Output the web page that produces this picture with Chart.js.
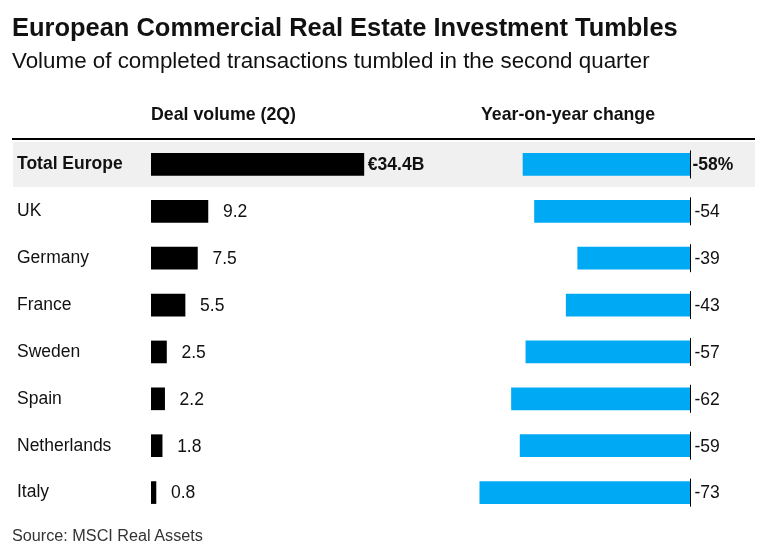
<!DOCTYPE html>
<html>
<head>
<meta charset="utf-8">
<script src="https://cdn.jsdelivr.net/npm/chart.js@4.4.1/dist/chart.umd.min.js"></script>
<style>
  html, body { margin: 0; padding: 0; background: #fff; }
  body { width: 759px; height: 556px; position: relative; overflow: hidden; font-family: "Liberation Sans", Arial, sans-serif; color: #000; }
  .t { position: absolute; white-space: nowrap; line-height: 1; }
  #title { left: 12px; top: 15px; font-weight: bold; font-size: 22px; color: #111; }
  #subtitle { left: 12px; top: 50px; font-size: 19px; color: #111; }
  #h1 { left: 151px; top: 106px; font-weight: bold; font-size: 17px; color: #111; }
  #h2 { left: 481px; top: 106px; font-weight: bold; font-size: 17px; color: #111; }
  #source { left: 12px; top: 527px; font-size: 15.5px; color: #333; }
  #wrap { position: absolute; left: 0; top: 0; width: 759px; height: 556px; }
</style>
</head>
<body>
<div id="wrap"><canvas id="c" width="759" height="556"></canvas></div>
<div class="t" id="title" data-w="666">European Commercial Real Estate Investment Tumbles</div>
<div class="t" id="subtitle" data-w="638">Volume of completed transactions tumbled in the second quarter</div>
<div class="t" id="h1" data-w="145">Deal volume (2Q)</div>
<div class="t" id="h2" data-w="174">Year-on-year change</div>
<div class="t" id="source" data-w="192">Source: MSCI Real Assets</div>
<script>
// ---- data ----
const categories = ["Total Europe", "UK", "Germany", "France", "Sweden", "Spain", "Netherlands", "Italy"];
const dealVolume = [34.4, 9.2, 7.5, 5.5, 2.5, 2.2, 1.8, 0.8];
const yoyChange = [-58, -54, -39, -43, -57, -62, -59, -73];
const volumeLabels = ["€34.4B", "9.2", "7.5", "5.5", "2.5", "2.2", "1.8", "0.8"];
const changeLabels = ["-58%", "-54", "-39", "-43", "-57", "-62", "-59", "-73"];

// ---- fit header texts to reference widths ----
(function fit() {
  const cv = document.createElement('canvas').getContext('2d');
  document.querySelectorAll('[data-w]').forEach(el => {
    const cs = getComputedStyle(el);
    const size = parseFloat(cs.fontSize);
    cv.font = cs.fontWeight + ' ' + size + 'px ' + cs.fontFamily;
    const w = cv.measureText(el.textContent).width;
    const target = parseFloat(el.dataset.w);
    el.style.fontSize = (size * target / w).toFixed(2) + 'px';
  });
})();

const FONT = '"Liberation Sans", Arial, sans-serif';
const BLUE = '#00a9f4';

const decor = {
  id: 'decor',
  beforeDraw(chart) {
    const ctx = chart.ctx;
    const y = chart.scales.y;
    const rowH = y.getPixelForValue(1) - y.getPixelForValue(0);
    const top0 = y.getPixelForValue(0) - rowH / 2;
    ctx.save();
    ctx.fillStyle = '#f0f0f0';
    ctx.fillRect(13, top0 + 1, 742, rowH - 2);
    ctx.fillStyle = '#000';
    ctx.fillRect(12, top0 - 3, 743, 2);
    ctx.restore();
  },
  afterDatasetsDraw(chart) {
    const ctx = chart.ctx;
    const m0 = chart.getDatasetMeta(0);
    const m1 = chart.getDatasetMeta(1);
    const x2 = chart.scales.x2;
    const zx = Math.round(x2.getPixelForValue(0)) + 0.5;
    ctx.save();
    ctx.textBaseline = 'middle';
    ctx.fillStyle = '#111';
    m0.data.forEach((bar, i) => {
      const bold = i === 0;
      ctx.font = (bold ? 'bold ' : '') + '17.5px ' + FONT;
      ctx.textAlign = 'left';
      ctx.fillText(volumeLabels[i], bar.x + (bold ? 4 : 15), bar.y + 1);
    });
    m1.data.forEach((bar, i) => {
      const bold = i === 0;
      ctx.strokeStyle = '#000';
      ctx.lineWidth = 1;
      ctx.beginPath();
      ctx.moveTo(zx, bar.y - 14);
      ctx.lineTo(zx, bar.y + 14);
      ctx.stroke();
      ctx.font = (bold ? 'bold ' : '') + '17.5px ' + FONT;
      ctx.textAlign = 'left';
      ctx.fillText(changeLabels[i], zx + (bold ? 2 : 4), bar.y + 1);
    });
    ctx.restore();
  }
};

new Chart(document.getElementById('c'), {
  type: 'bar',
  data: {
    labels: categories,
    datasets: [
      { data: dealVolume, xAxisID: 'x', backgroundColor: '#000', barThickness: 22, grouped: false },
      { data: yoyChange, xAxisID: 'x2', backgroundColor: BLUE, barThickness: 22, grouped: false }
    ]
  },
  options: {
    indexAxis: 'y',
    responsive: false,
    animation: false,
    maintainAspectRatio: false,
    layout: { padding: { left: 17, right: 14, top: 141, bottom: 40 } },
    plugins: { legend: { display: false }, tooltip: { enabled: false } },
    scales: {
      x: { display: false, min: 0, max: 96 },
      x2: { display: false, min: -187.2, max: 19.1 },
      y: {
        display: true,
        afterFit(s) { s.width = 134; },
        grid: { display: false, drawTicks: false },
        border: { display: false },
        ticks: {
          crossAlign: 'far',
          padding: 0,
          color: '#111',
          font: (c) => ({ family: FONT, size: 17.5, weight: c.index === 0 ? 'bold' : 'normal' })
        }
      }
    }
  },
  plugins: [decor]
});
</script>
</body>
</html>
